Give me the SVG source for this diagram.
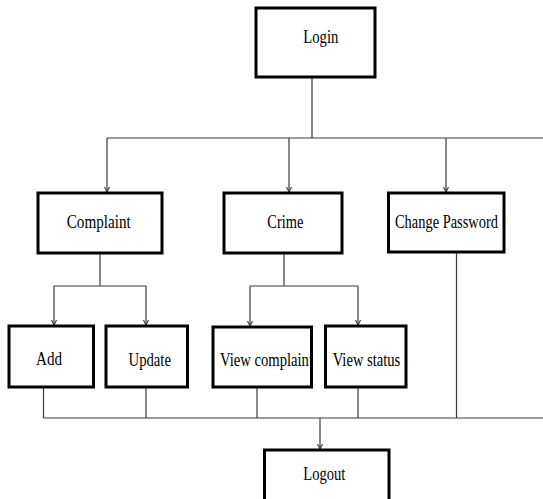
<svg xmlns="http://www.w3.org/2000/svg" width="543" height="499" viewBox="0 0 543 499">
<defs>
<style>
.box{fill:#fff;stroke:#000;stroke-width:3}
.lbl{font-family:"Liberation Serif","Times New Roman",serif;font-size:19px;fill:#000}
.ln{fill:none;stroke:#3a3a3a;stroke-width:1.2}
</style>
<marker id="arr" markerWidth="6" markerHeight="6" refX="5" refY="3" orient="auto" markerUnits="userSpaceOnUse">
<path d="M0,0.5 L5,3 L0,5.5" fill="none" stroke="#3a3a3a" stroke-width="1.1"/>
</marker>
</defs>
<rect width="543" height="499" fill="#fff"/>
<g id="connectors">
<path class="ln" d="M312,77 V138"/>
<path class="ln" d="M107,138 H543"/>
<path class="ln" d="M107,138 V192" marker-end="url(#arr)"/>
<path class="ln" d="M289,138 V192" marker-end="url(#arr)"/>
<path class="ln" d="M446,138 V192" marker-end="url(#arr)"/>
<path class="ln" d="M100,253 V286 M54,286 H146"/>
<path class="ln" d="M54,286 V325" marker-end="url(#arr)"/>
<path class="ln" d="M146,286 V325" marker-end="url(#arr)"/>
<path class="ln" d="M284,253 V286 M250,286 H358"/>
<path class="ln" d="M250,286 V326" marker-end="url(#arr)"/>
<path class="ln" d="M358,286 V325" marker-end="url(#arr)"/>
<path class="ln" d="M43.5,387 V418 M146,387 V418 M257,387 V418 M358,387 V418 M456.5,252 V418"/>
<path class="ln" d="M43.5,418 H543"/>
<path class="ln" d="M320,418 V449" marker-end="url(#arr)"/>
</g>
<g id="login">
<rect class="box" x="256" y="8" width="119" height="69"/>
<text class="lbl" x="303.3" y="43" textLength="35" lengthAdjust="spacingAndGlyphs">Login</text>
</g>
<g id="complaint">
<rect class="box" x="38" y="193" width="124" height="60"/>
<text class="lbl" x="66.7" y="228.3" textLength="64" lengthAdjust="spacingAndGlyphs">Complaint</text>
</g>
<g id="crime">
<rect class="box" x="224" y="193" width="118" height="60"/>
<text class="lbl" x="267.3" y="227.8" textLength="36" lengthAdjust="spacingAndGlyphs">Crime</text>
</g>
<g id="change-password">
<rect class="box" x="388.5" y="193" width="115.5" height="59"/>
<text class="lbl" x="395" y="227.8" textLength="103" lengthAdjust="spacingAndGlyphs">Change Password</text>
</g>
<g id="add">
<rect class="box" x="9" y="326" width="84.5" height="61"/>
<text class="lbl" x="36" y="365.3" textLength="26" lengthAdjust="spacingAndGlyphs">Add</text>
</g>
<g id="update">
<rect class="box" x="106" y="326" width="81.5" height="61"/>
<text class="lbl" x="128.5" y="365.7" textLength="42.5" lengthAdjust="spacingAndGlyphs">Update</text>
</g>
<g id="view-complaint">
<rect class="box" x="213" y="327" width="98.5" height="60"/>
<text class="lbl" x="220" y="366" textLength="93" lengthAdjust="spacingAndGlyphs">View complaint</text>
</g>
<g id="view-status">
<rect class="box" x="325.5" y="326" width="80.5" height="61"/>
<text class="lbl" x="332.7" y="366" textLength="67.6" lengthAdjust="spacingAndGlyphs">View status</text>
</g>
<g id="logout">
<rect class="box" x="264.5" y="450" width="124.5" height="60"/>
<text class="lbl" x="303.3" y="479.5" textLength="42" lengthAdjust="spacingAndGlyphs">Logout</text>
</g>
</svg>
